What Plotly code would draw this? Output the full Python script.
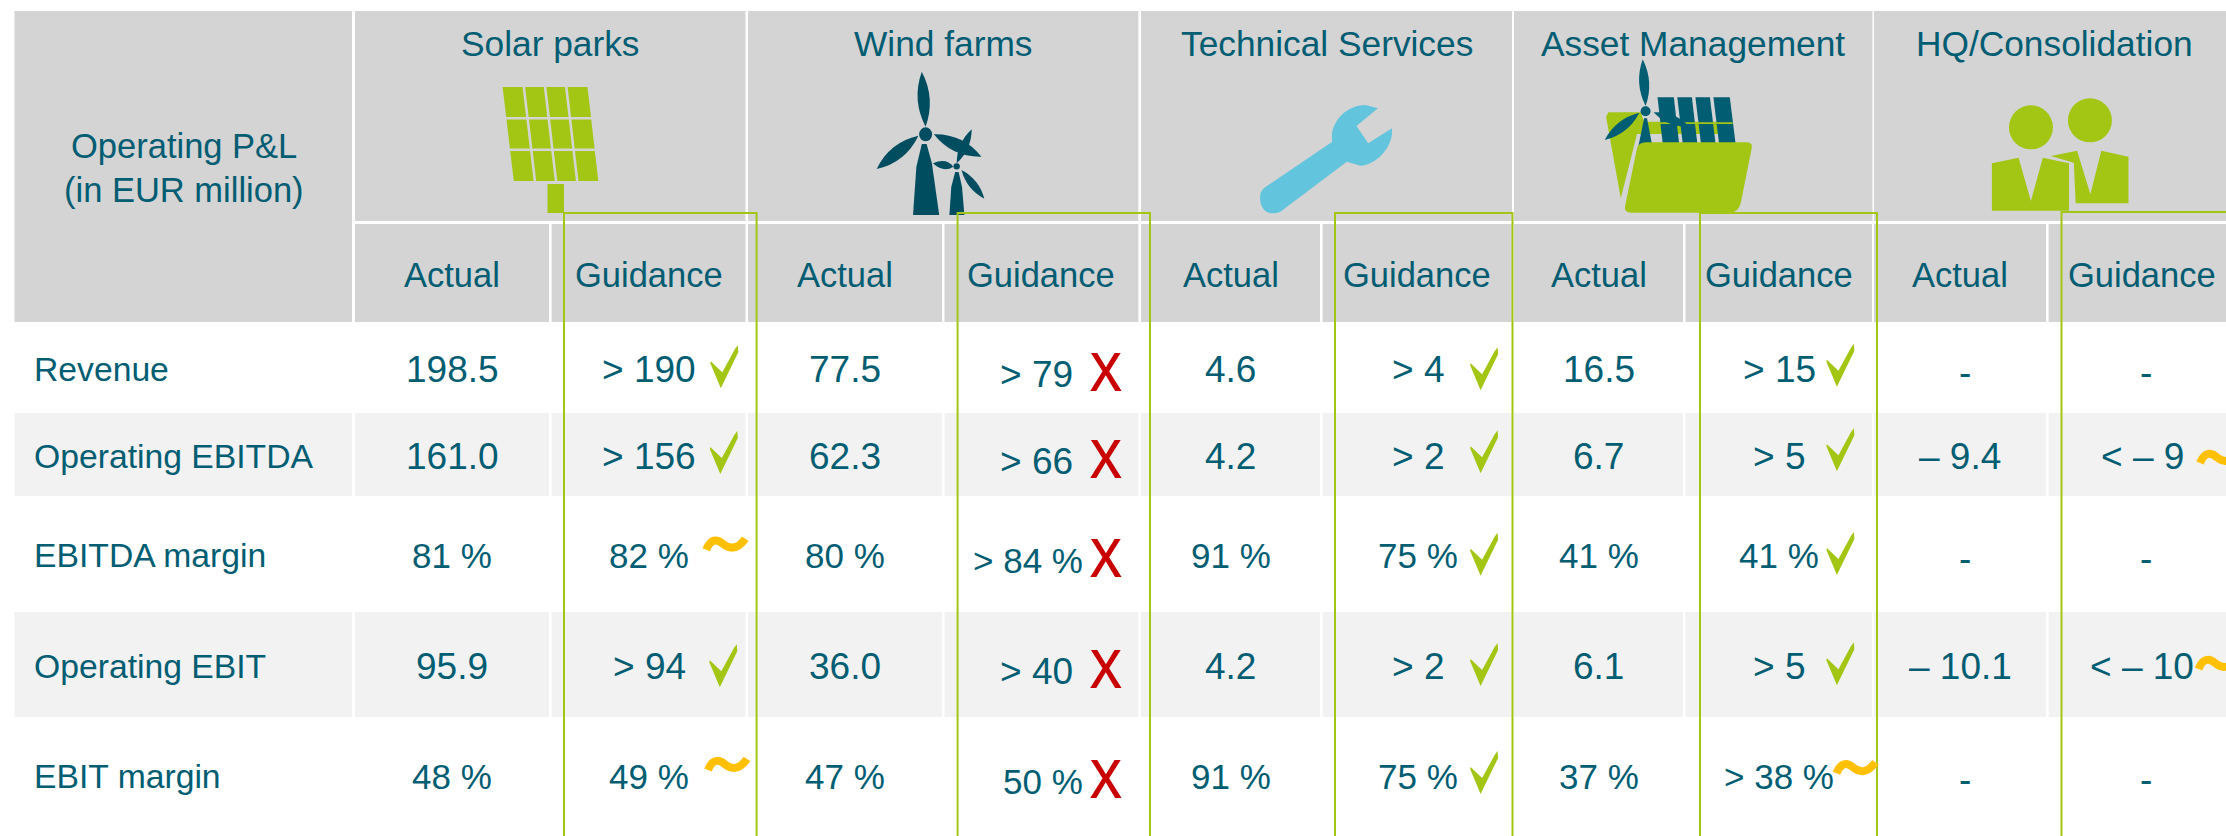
import plotly.graph_objects as go

# ---------- table content ----------
segments = ["Solar parks", "Wind farms", "Technical Services", "Asset Management", "HQ/Consolidation"]
rows = ["Revenue", "Operating EBITDA", "EBITDA margin", "Operating EBIT", "EBIT margin"]
corner_lines = ["Operating P&L", "(in EUR million)"]

actual_solar = ["198.5", "161.0", "81 %", "95.9", "48 %"]
actual_wind = ["77.5", "62.3", "80 %", "36.0", "47 %"]
actual_tech = ["4.6", "4.2", "91 %", "4.2", "91 %"]
actual_asset = ["16.5", "6.7", "41 %", "6.1", "37 %"]
actual_hq = ["-", "– 9.4", "-", "– 10.1", "-"]

guidance_solar = ["> 190", "> 156", "82 %", "> 94", "49 %"]
guidance_wind = ["> 79", "> 66", "> 84 %", "> 40", "50 %"]
guidance_tech = ["> 4", "> 2", "75 %", "> 2", "75 %"]
guidance_asset = ["> 15", "> 5", "41 %", "> 5", "> 38 %"]
guidance_hq = ["-", "< – 9", "-", "< – 10", "-"]

status_solar = ["ok", "ok", "near", "ok", "near"]
status_wind = ["miss", "miss", "miss", "miss", "miss"]
status_tech = ["ok", "ok", "ok", "ok", "ok"]
status_asset = ["ok", "ok", "ok", "ok", "near"]
status_hq = [None, "near", None, "near", None]

actuals = [actual_solar, actual_wind, actual_tech, actual_asset, actual_hq]
guidances = [guidance_solar, guidance_wind, guidance_tech, guidance_asset, guidance_hq]
statuses = [status_solar, status_wind, status_tech, status_asset, status_hq]

# ---------- layout geometry (page pixels) ----------
W, H = 2226, 836
TEAL = "#005D72"
DARK = "#004D60"
GREEN = "#A3C614"
ORANGE = "#FFC000"
RED = "#C80000"
SKY = "#62C4DD"
HEAD = "#D4D4D4"
BAND = "#F2F2F2"
FONT = "Liberation Sans"

corner_x = (14.5, 352)
seg_x = [(355, 745.5), (748, 1138.4), (1141, 1512), (1514, 1872.5), (1874, 2226)]
act_x = [(355, 549), (748, 942), (1141, 1320), (1514, 1683), (1874, 2046)]
gui_x = [(551.6, 745.5), (944.5, 1138.4), (1322.6, 1512), (1685.5, 1872), (2048.6, 2226)]
box_x = [(564, 756.6), (957.6, 1150), (1335, 1512.5), (1700, 1877), (2061.5, 2240)]
head_top, head_mid0, head_mid1, head_bot = 11, 221, 224, 322
bands_y = [(413, 496), (612, 717)]
row_y = [369, 456, 555, 666, 776]
gui_cx = [[649] * 5, [1036.6, 1036.6, 1028, 1036.6, 1043], [1417.6] * 5, [1779] * 5,
          [2146, 2142, 2146, 2142, 2146]]
gui_dy = [[0] * 5, [5, 5.7, 5.7, 5, 5], [0] * 5, [0] * 5, [0] * 5]
check_xy = [[(720.8, 388.3), (720.3, 474), None, (719.8, 687.3), None],
            None,
            [(1480.6, 390.3), (1480.6, 473.3), (1480.6, 575.7), (1480.6, 686), (1480.6, 794)],
            [(1836.9, 386.7), (1836.9, 471.3), (1836.9, 575), (1836.9, 685.3), None],
            None]
tilde_xy = [[None, None, (725.8, 544.7), None, (727.5, 765)], None, None,
            [None, None, None, None, (1855.9, 768.3)],
            [None, (2219.5, 458), None, (2218, 664), None]]
miss_x = 1106.4

shapes, notes = [], []


def rect(x0, y0, x1, y1, color):
    shapes.append(dict(type="rect", x0=x0, y0=y0, x1=x1, y1=y1, fillcolor=color,
                       line=dict(width=0), layer="below"))


def path(d, fill=None, line=None, lw=0):
    s = dict(type="path", path=d, line=dict(width=lw, color=line or "rgba(0,0,0,0)"))
    if fill:
        s["fillcolor"] = fill
    shapes.append(s)


def text(x, y, t, size=35, color=TEAL, anchor="center", family=FONT, weight="normal"):
    notes.append(dict(x=x, y=y, text=t, showarrow=False, xref="x", yref="y", xanchor=anchor,
                      yanchor="middle", font=dict(family=family, size=size, color=color, weight=weight)))


def crop(off, f):
    return lambda x, y: (off + x * f, y / 3)


def poly(pts, fill):
    path("M " + " L ".join(f"{x:.1f} {y:.1f}" for x, y in pts) + " Z", fill)


def blade(base, tip, w, color, at=0.5):
    bx, by = base
    tx, ty = tip
    dx, dy = tx - bx, ty - by
    L = (dx * dx + dy * dy) ** 0.5
    nx, ny = -dy / L * w, dx / L * w
    mx, my = bx + dx * at, by + dy * at
    path(f"M {bx:.1f} {by:.1f} Q {mx + nx:.1f} {my + ny:.1f} {tx:.1f} {ty:.1f} "
         f"Q {mx - nx:.1f} {my - ny:.1f} {bx:.1f} {by:.1f} Z", color)


def ellipse(cx, cy, rx, ry, color):
    shapes.append(dict(type="circle", x0=cx - rx, x1=cx + rx, y0=cy - ry, y1=cy + ry,
                       fillcolor=color, line=dict(width=0)))


def panel(tl, tr, br, bl, ncol, nrow, gap, color):
    def at(u, v):
        lx, ly = tl[0] + (bl[0] - tl[0]) * v, tl[1] + (bl[1] - tl[1]) * v
        rx, ry = tr[0] + (br[0] - tr[0]) * v, tr[1] + (br[1] - tr[1]) * v
        return lx + (rx - lx) * u, ly + (ry - ly) * u
    wpx = tr[0] - tl[0]
    hpx = bl[1] - tl[1]
    gu, gv = gap[0] / wpx, gap[1] / hpx
    for c in range(ncol):
        for r in range(nrow):
            u0 = c / ncol + (gu / 2 if c else 0)
            u1 = (c + 1) / ncol - (gu / 2 if c < ncol - 1 else 0)
            v0 = r / nrow + (gv / 2 if r else 0)
            v1 = (r + 1) / nrow - (gv / 2 if r < nrow - 1 else 0)
            poly([at(u0, v0), at(u1, v0), at(u1, v1), at(u0, v1)], color)


def check(bx, by):
    p = [(0, 0), (-10.5, -25), (-10, -27), (1.5, -16), (14, -39), (17, -43), (17.5, -36)]
    poly([(bx + a, by + b) for a, b in p], GREEN)


def tilde(cx, cy):
    path(f"M {cx - 19.5} {cy + 5} C {cx - 15} {cy - 6} {cx - 9} {cy - 6} {cx - 3} {cy - 1} "
         f"S {cx + 11} {cy + 6} {cx + 19.5} {cy - 6}", None, ORANGE, 8)


# ---------- backgrounds ----------
rect(corner_x[0], head_top, corner_x[1], head_bot, HEAD)
for a_, b_ in seg_x:
    rect(a_, head_top, b_, head_mid0, HEAD)
for a_, b_ in act_x + gui_x:
    rect(a_, head_mid1, b_, head_bot, HEAD)
for y0, y1 in bands_y:
    rect(corner_x[0], y0, corner_x[1], y1, BAND)
    for a_, b_ in act_x + gui_x:
        rect(a_, y0, b_, y1, BAND)

# ---------- icons ----------
panel((502.6, 87), (587.5, 87), (598.3, 181), (513.8, 181), 4, 3, (2.6, 2.6), GREEN)
rect(547.5, 184, 564, 213, GREEN)
shapes[-1]["layer"] = "above"

z = crop(740, 760 / 1568)
blade(z(383, 380), z(375, 215), 12, DARK, 0.5)
blade(z(368, 407), z(282, 507), 13, DARK)
blade(z(400, 403), z(498, 470), 13, DARK)
ellipse(*z(383, 403), 6.5, 7, DARK)
poly([z(375, 432), z(385, 432), z(396, 490), z(411, 645), z(357, 645), z(364, 500)], DARK)
blade(z(447, 490), z(478, 388), 8, DARK)
blade(z(440, 500), z(398, 490), 8, DARK, 0.4)
blade(z(457, 510), z(504, 596), 8, DARK)
ellipse(*z(447, 499), 3.2, 3.2, DARK)
poly([z(444, 516), z(451, 516), z(458, 560), z(463, 645), z(432, 645), z(436, 560)], DARK)


def pts(f, *xy):
    return [f(xy[i], xy[i + 1]) for i in range(0, len(xy), 2)]


def curve(f, spec):
    """spec: list of (command, x, y, ...) in crop coordinates, one segment per command."""
    out = []
    for cmd, *xy in spec:
        out.append(cmd + " " + " ".join(f"{a:.1f} {b:.1f}" for a, b in pts(f, *xy)))
    return " ".join(out) + " Z"


path(curve(z, [("M", 1085, 560), ("L", 1222, 425), ("C", 1215, 370, 1250, 315, 1290, 315),
               ("L", 1316, 325), ("L", 1272, 378), ("L", 1296, 430), ("L", 1345, 385),
               ("C", 1350, 440, 1310, 497, 1280, 497), ("L", 1252, 485), ("L", 1115, 635),
               ("C", 1090, 650, 1072, 630, 1073, 590), ("C", 1073, 575, 1080, 565, 1085, 560)]), SKY)

a = crop(1480, 746 / 1568)
poly([a(270, 337), a(338, 337), a(345, 365), a(515, 365), a(520, 402), a(330, 402), a(296, 595), a(265, 350)], GREEN)
panel(a(373, 292), a(525, 292), a(537, 430), a(384, 430), 4, 1, (3.5, 0), TEAL)
poly([a(378, 367), a(531, 367), a(531, 372), a(378, 372)], GREEN)
poly([a(345, 355), a(351, 355), a(365, 460), a(330, 460)], TEAL)
blade(a(348, 318), a(342, 178), 10, TEAL, 0.5)
blade(a(335, 338), a(262, 420), 10, TEAL)
blade(a(365, 337), a(440, 380), 9, TEAL)
ellipse(*a(348, 334), 5, 5, TEAL)
path(curve(a, [("M", 350, 427), ("L", 560, 427), ("Q", 574, 427, 571, 445), ("L", 548, 610),
               ("Q", 543, 638, 525, 638), ("L", 318, 638), ("Q", 302, 638, 305, 618),
               ("L", 330, 445), ("Q", 333, 427, 350, 427)]), GREEN)

ellipse(*a(1282, 361), 22, 22, GREEN)
poly([a(1255, 452), a(1283, 583), a(1306, 452), a(1363, 470), a(1363, 610), a(1252, 610),
      a(1248, 488), a(1200, 468)], GREEN)
ellipse(*a(1158, 382), 22, 22, GREEN)
poly([a(1132, 473), a(1158, 603), a(1183, 473), a(1238, 490), a(1238, 632), a(1076, 632), a(1076, 490)], GREEN)

# ---------- guidance frames ----------
for i, (l, r) in enumerate(box_x):
    top = 212 if i == 4 else 213
    path(f"M {l} {H} L {l} {top} L {r} {top} L {r} {H}", None, GREEN, 2)


# ---------- text ----------
def num_size(t):
    return 35 if "%" in t else 37


text(184, 146, corner_lines[0], 34.5)
text(184, 190, corner_lines[1], 34.5)
for i, s in enumerate(segments):
    cx = sum(seg_x[i]) / 2 + (4 if i == 4 else 0)
    text(cx, 43, s, 35.3)
    text(sum(act_x[i]) / 2, 275, "Actual", 34.5)
    text(sum(gui_x[i]) / 2 + (0 if i < 4 else 5), 275, "Guidance", 34.5)

for r, label in enumerate(rows):
    text(32, row_y[r], label, 33.7, anchor="left")
    for i in range(len(segments)):
        ax = sum(act_x[i]) / 2 + (5 if actuals[i][r] == "-" else 0)
        ay = row_y[r] + (3 if actuals[i][r] == "-" else 0)
        text(ax, ay, actuals[i][r], num_size(actuals[i][r]))
        gy = row_y[r] + gui_dy[i][r] + (3 if guidances[i][r] == "-" else 0)
        text(gui_cx[i][r], gy, guidances[i][r], num_size(guidances[i][r]))
        st = statuses[i][r]
        if st == "ok":
            check(*check_xy[i][r])
        elif st == "near":
            tilde(*tilde_xy[i][r])
        elif st == "miss":
            text(miss_x, row_y[r] + 1, "X", 52, RED, family="Noto Sans", weight=500)

# ---------- figure ----------
fig = go.Figure(go.Scatter(x=[None], y=[None], hoverinfo="skip", showlegend=False))
fig.update_layout(
    width=W, height=H, margin=dict(l=0, r=0, t=0, b=0),
    paper_bgcolor="white", plot_bgcolor="white", showlegend=False,
    xaxis=dict(range=[0, W], visible=False, fixedrange=True),
    yaxis=dict(range=[H, 0], visible=False, fixedrange=True),
    shapes=shapes, annotations=notes,
)
fig.write_html("out.html", config=dict(displayModeBar=False),
               post_script="document.body.style.margin='0';document.body.style.overflow='hidden';")
